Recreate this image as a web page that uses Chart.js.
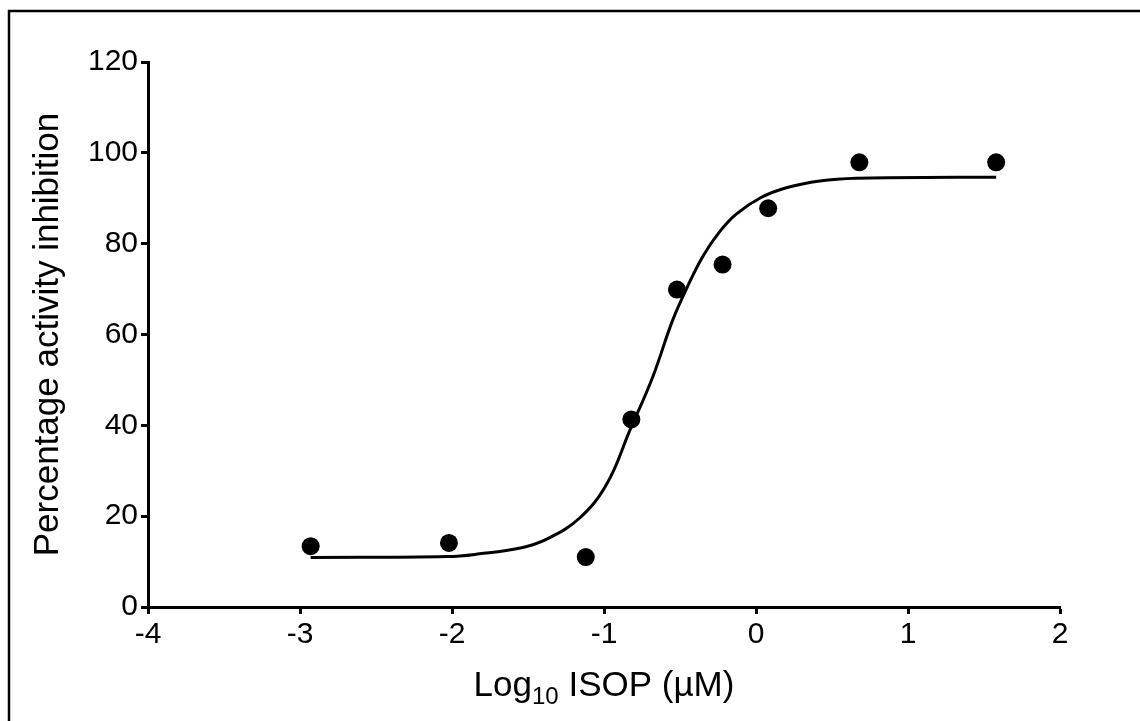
<!DOCTYPE html>
<html>
<head>
<meta charset="utf-8">
<script src="https://cdn.jsdelivr.net/npm/chart.js@4/dist/chart.umd.min.js"></script>
<style>
  html, body { margin: 0; padding: 0; background: #fff; }
  #wrap { width: 1140px; height: 721px; position: relative; }
</style>
</head>
<body>
<div id="wrap"><canvas id="chart" width="1140" height="721"></canvas></div>
<script>
'use strict';

// measured responses (log10 dose, % inhibition)
const doseLog = [ -2.93, -2.02, -1.12, -0.82, -0.52, -0.22, 0.08, 0.68, 1.58 ];
const inhibition = [ 13.4, 14.1, 11.0, 41.3, 69.9, 75.4, 87.8, 97.9, 97.9 ];

// fitted dose-response curve, sampled along its length
const fitLog = [ -2.93, -2.03, -1.82, -1.55, -1.38, -1.16, -0.98, -0.83, -0.68, -0.55,
    -0.45, -0.35, -0.24, -0.13, 0.03, 0.2, 0.42, 0.66, 1.32, 1.58 ];
const fitInhibition = [ 10.9, 11.1, 11.7, 13.0, 14.9, 19.6, 27.2, 38.9, 50.6, 63.0,
    70.6, 77.2, 82.6, 86.5, 90.1, 92.3, 93.8, 94.4, 94.6, 94.6 ];

const xTicks = [ -4, -3, -2, -1, 0, 1, 2 ];
const yTicks = [ 0, 20, 40, 60, 80, 100, 120 ];

const yTitle = 'Percentage activity inhibition';
const xTitle = [ 'Log', '10', ' ISOP (\u00b5M)' ];

const FONT = 'Liberation Sans, Arial, sans-serif';

const toPoints = (xs, ys) => xs.map((x, i) => ({ x, y: ys[i] }));

// left/top frame lines and the subscripted x axis title
const decorations = {
    id: 'decorations',
    afterDraw(chart) {
        const ctx = chart.ctx;
        const area = chart.chartArea;
        ctx.save();
        ctx.strokeStyle = '#000';
        ctx.lineWidth = 2.5;
        ctx.beginPath();
        ctx.moveTo(9, 721);
        ctx.lineTo(9, 11);
        ctx.lineTo(1140, 11);
        ctx.stroke();

        const big = '35px ' + FONT;
        const small = '24px ' + FONT;
        ctx.fillStyle = '#000';
        ctx.textBaseline = 'alphabetic';
        ctx.font = big;
        const w0 = ctx.measureText(xTitle[0]).width;
        const w2 = ctx.measureText(xTitle[2]).width;
        ctx.font = small;
        const w1 = ctx.measureText(xTitle[1]).width;
        const total = w0 + w1 + w2;
        let x = (area.left + area.right) / 2 - total / 2;
        const base = 696;
        ctx.font = big;
        ctx.fillText(xTitle[0], x, base);
        x += w0;
        ctx.font = small;
        ctx.fillText(xTitle[1], x, base + 8);
        x += w1;
        ctx.font = big;
        ctx.fillText(xTitle[2], x, base);
        ctx.restore();
    }
};

const axisGrid = {
    drawOnChartArea: false,
    drawTicks: true,
    tickLength: 7,
    tickWidth: 3,
    color: '#000'
};

new Chart(document.getElementById('chart'), {
    type: 'scatter',
    data: {
        datasets: [
            {
                label: 'fit',
                data: toPoints(fitLog, fitInhibition),
                showLine: true,
                borderColor: '#000',
                borderWidth: 3,
                pointRadius: 0,
                tension: 0.4,
                fill: false
            },
            {
                label: 'measured',
                data: toPoints(doseLog, inhibition),
                pointRadius: 9,
                pointBackgroundColor: '#000',
                pointBorderColor: '#000',
                pointBorderWidth: 0
            }
        ]
    },
    options: {
        responsive: false,
        animation: false,
        layout: { padding: { left: 0, top: 62, right: 80, bottom: 0 } },
        plugins: {
            legend: { display: false },
            tooltip: { enabled: false }
        },
        scales: {
            x: {
                type: 'linear',
                min: -4,
                max: 2,
                afterBuildTicks: (s) => { s.ticks = xTicks.map(v => ({ value: v })); },
                afterFit: (s) => { s.height = 114; },
                grid: axisGrid,
                border: { display: true, color: '#000', width: 3 },
                ticks: {
                    color: '#000',
                    padding: 3,
                    font: { family: FONT, size: 30 }
                }
            },
            y: {
                type: 'linear',
                min: 0,
                max: 120,
                afterBuildTicks: (s) => { s.ticks = yTicks.map(v => ({ value: v })); },
                afterFit: (s) => { s.width = 148; },
                grid: axisGrid,
                border: { display: true, color: '#000', width: 3 },
                ticks: {
                    color: '#000',
                    padding: 3,
                    font: { family: FONT, size: 30 }
                },
                title: {
                    display: true,
                    text: yTitle,
                    color: '#000',
                    font: { family: FONT, size: 35 },
                    padding: { top: 27, bottom: 0 }
                }
            }
        }
    },
    plugins: [ decorations ]
});
</script>
</body>
</html>
